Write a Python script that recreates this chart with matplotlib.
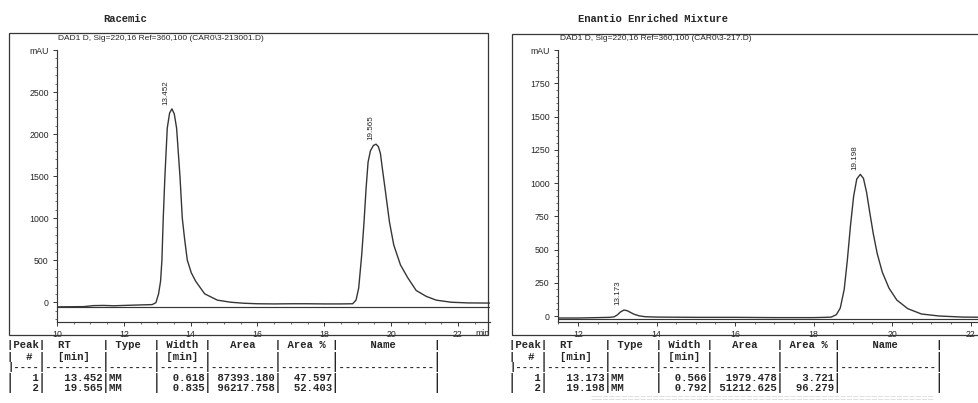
import numpy as np
import matplotlib
matplotlib.use("Agg")
import matplotlib.pyplot as plt
from matplotlib.patches import Rectangle
from matplotlib.ticker import MultipleLocator, FixedLocator, FixedFormatter

# ---------------- data ----------------
panel_titles = ["Racemic", "Enantio Enriched Mixture"]
signal_names = ["DAD1 D, Sig=220,16 Ref=360,100 (CAR0\\3-213001.D)",
                "DAD1 D, Sig=220,16 Ref=360,100 (CAR0\\3-217.D)"]

rac_time = [10.0, 10.8, 11.1, 11.4, 11.7, 12.0, 12.5, 12.85,
            12.96, 13.04, 13.10, 13.14, 13.18, 13.23, 13.30, 13.37, 13.44, 13.51,
            13.58, 13.68, 13.75, 13.82, 13.90, 14.02, 14.15, 14.42, 14.8, 15.2,
            15.6, 16.0, 16.5, 17.0, 17.5, 18.0, 18.5, 18.85,
            18.95, 19.03, 19.12, 19.19, 19.25, 19.31, 19.38, 19.47, 19.55, 19.62,
            19.68, 19.74, 19.82, 19.95, 20.08, 20.28, 20.50, 20.75, 21.05, 21.35,
            21.8, 22.3, 23.0]
rac_mau = [-55, -52, -40, -38, -42, -38, -32, -28,
           -5, 100, 250, 500, 1000, 1500, 2070, 2250, 2300, 2240,
           2070, 1500, 1000, 750, 500, 350, 250, 100, 25, 0,
           -12, -18, -20, -18, -18, -20, -20, -18,
           25, 169, 562, 956, 1349, 1664, 1800, 1865, 1880, 1850,
           1770, 1585, 1349, 956, 680, 444, 290, 140, 70, 25,
           0, -8, -10]
rac_base_time = [10.0, 23.0]
rac_base_mau = [-55, -55]

enr_time = [11.49, 12.0, 12.5, 12.80,
            12.92, 13.00, 13.08, 13.17, 13.25, 13.33, 13.43, 13.55, 13.7,
            14.0, 15.0, 16.0, 17.0, 18.0, 18.3, 18.45,
            18.58, 18.68, 18.78, 18.86, 18.94, 19.02, 19.10, 19.19, 19.27, 19.35,
            19.43, 19.52, 19.62, 19.75, 19.92, 20.12, 20.4, 20.75, 21.2, 21.8, 22.6]
enr_mau = [-15, -15, -12, -10,
           -6, 8, 30, 45, 40, 28, 13, 2, -5,
           -8, -10, -10, -12, -12, -10, -8,
           10, 60, 200, 420, 680, 900, 1030, 1065, 1035, 930,
           780, 620, 470, 330, 210, 120, 55, 15, 0, -8, -10]
enr_base_time = [11.49, 22.6]
enr_base_mau = [-25, -25]

rac_yticks = [0, 500, 1000, 1500, 2000, 2500]
enr_yticks = [0, 250, 500, 750, 1000, 1250, 1500, 1750]
rac_xticks = [10, 12, 14, 16, 18, 20, 22]
enr_xticks = [12, 14, 16, 18, 20, 22]

table_cols = ["Peak", "  RT", " Type", " Width", "   Area", " Area %", "     Name"]
table_units = ["  # ", "  [min]", "", " [min]", "", "", ""]
col_widths = [4, 9, 7, 7, 10, 8, 15]

rac_peak = [1, 2]
rac_rt = [13.452, 19.565]
rac_type = ["MM", "MM"]
rac_width = [0.618, 0.835]
rac_area = [87393.180, 96217.758]
rac_area_pct = [47.597, 52.403]

enr_peak = [1, 2]
enr_rt = [13.173, 19.198]
enr_type = ["MM", "MM"]
enr_width = [0.566, 0.792]
enr_area = [1979.478, 51212.625]
enr_area_pct = [3.721, 96.279]

# ---------------- style ----------------
W, H = 979, 403
INK = "#262626"
LINE = "#363636"
SANS = ["Liberation Sans Narrow", "Liberation Sans", "DejaVu Sans"]
MONO = ["Liberation Mono", "DejaVu Sans Mono"]

fig = plt.figure(figsize=(W / 100, H / 100), dpi=100)
fig.patch.set_facecolor("white")


def fx(px):
    return px / W


def fy(py):
    return 1 - py / H


def fig_text(x, y, s, **kw):
    fig.text(fx(x), fy(y), s, **kw)


def build_lines(peaks, rts, types, widths, areas, pcts):
    def join(cells):
        return "|" + "|".join(cells) + "|"
    lines = [join([c.ljust(w) for c, w in zip(table_cols, col_widths)]),
             join([c.ljust(w) for c, w in zip(table_units, col_widths)]),
             join(["-" * w for w in col_widths])]
    for p, rt, ty, wd, ar, pc in zip(peaks, rts, types, widths, areas, pcts):
        cells = [f"{p:>4d}", f"{rt:>9.3f}", f"{ty:<7}", f"{wd:>7.3f}",
                 f"{ar:>10.3f}", f"{pc:>8.3f}", " " * 15]
        lines.append(join(cells))
    return lines


def draw_panel(frame, axpx, xlim, ylim, yticks, yminor, xticks, time, mau,
               bt, bv, rts, title, title_x, sig, sig_x, table_x, lines):
    fx0, fy0, fx1, fy1 = frame
    fig.patches.append(Rectangle((fx(fx0), fy(fy1)), fx(fx1 - fx0), (fy1 - fy0) / H,
                                 transform=fig.transFigure, fill=False,
                                 edgecolor=LINE, linewidth=0.9, zorder=0))
    x0, y0, x1, y1 = axpx
    ax = fig.add_axes([fx(x0), fy(y1), fx(x1 - x0), (y1 - y0) / H])
    ax.set_facecolor("none")
    ax.plot(bt, bv, color=LINE, lw=0.85, solid_capstyle="butt")
    ax.plot(time, mau, color=LINE, lw=1.0, solid_joinstyle="round")
    ax.set_xlim(*xlim)
    ax.set_ylim(*ylim)
    for s in ("top", "right"):
        ax.spines[s].set_visible(False)
    for s in ("left", "bottom"):
        ax.spines[s].set_color(LINE)
        ax.spines[s].set_linewidth(0.85)
    ax.yaxis.set_major_locator(FixedLocator(list(yticks) + [ylim[1]]))
    ax.yaxis.set_major_formatter(FixedFormatter([str(v) for v in yticks] + ["mAU"]))
    ax.yaxis.set_minor_locator(MultipleLocator(yminor))
    ax.xaxis.set_major_locator(FixedLocator(xticks))
    ax.xaxis.set_major_formatter(FixedFormatter([str(v) for v in xticks]))
    ax.xaxis.set_minor_locator(MultipleLocator(0.5))
    ax.tick_params(axis="both", which="major", direction="out", length=3,
                   width=0.7, color=LINE, labelcolor=INK, labelsize=6.3, pad=3.0)
    ax.tick_params(axis="both", which="minor", direction="out", length=1.5,
                   width=0.5, color=LINE)
    for lab in ax.get_xticklabels() + ax.get_yticklabels():
        lab.set_family(SANS)
    ax.annotate("min", xy=(1, 0), xycoords="axes fraction", xytext=(0, -8.3),
                textcoords="offset points", ha="right", va="center",
                fontsize=6.3, family=SANS, color=INK, annotation_clip=False)
    for rt in rts:
        yv = float(np.interp(rt, time, mau))
        ax.annotate(f"{rt:.3f}", xy=(rt, yv), xytext=(-4.3, 3.4),
                    textcoords="offset points", rotation=90, ha="center",
                    va="bottom", fontsize=5.8, family=SANS, color=INK)
    fig_text(title_x, 19.5, title, ha="center", va="center", fontsize=7.6,
             family=MONO, weight="bold", color=INK)
    fig_text(sig_x, 39, sig, ha="left", va="center", fontsize=6.0,
             family=SANS, color=INK)
    row_y = [345, 356.5, 367, 377.8, 388.3]
    for ln, yy in zip(lines, row_y):
        fig_text(table_x, yy, ln, ha="left", va="center", fontsize=7.65,
                 family=MONO, weight="bold", color=INK)
    return ax


rac_lines = build_lines(rac_peak, rac_rt, rac_type, rac_width, rac_area, rac_area_pct)
enr_lines = build_lines(enr_peak, enr_rt, enr_type, enr_width, enr_area, enr_area_pct)

draw_panel((9, 33, 488, 335), (57, 50, 490, 322), (10, 22.96), (-235, 3000),
           rac_yticks, 100, rac_xticks, rac_time, rac_mau, rac_base_time, rac_base_mau,
           rac_rt, panel_titles[0], 125, signal_names[0], 58, 7.2, rac_lines)
draw_panel((512, 34, 1010, 335), (558, 50, 993, 322), (11.49, 22.57), (-45, 2000),
           enr_yticks, 50, enr_xticks, enr_time, enr_mau, enr_base_time, enr_base_mau,
           enr_rt, panel_titles[1], 653, signal_names[1], 560, 509.5, enr_lines)

# faint separator under the right table
fig_text(590, 399.5, "=" * 55, ha="left", va="center", fontsize=7.6,
         family=MONO, color="#d6d6d6")

fig.savefig("out.png", dpi=100, facecolor="white")
